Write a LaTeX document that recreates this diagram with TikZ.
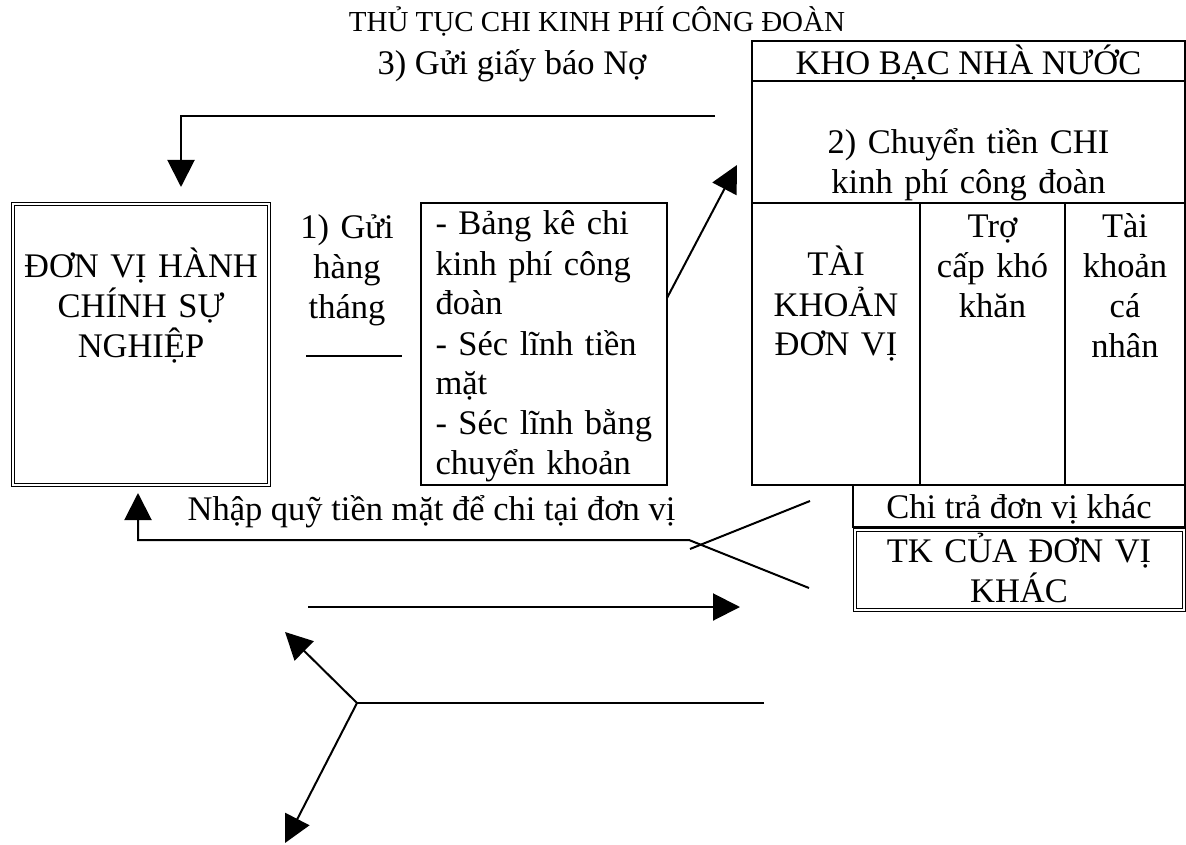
\documentclass[tikz,border=0pt]{standalone}
\usepackage{fontspec}
\setmainfont{Liberation Serif}
\usepackage{tikz}
\usetikzlibrary{arrows.meta, positioning}

\newcommand{\spreadline}[1]{\makebox[217pt][s]{#1}}

\begin{document}
\begin{tikzpicture}[
        x=1pt, y=-1pt,
        font=\fontsize{34.5}{40}\selectfont,
        cell/.style={rectangle, draw=black, line width=2pt, inner sep=0pt, outer sep=0pt, align=center},
        dblcell/.style={rectangle, draw=black, line width=1pt, double, double distance=2pt, inner sep=0pt, outer sep=0pt, align=center},
        relation/.style={-{Triangle[length=27pt, width=27pt]}, line width=2pt},
        plain/.style={line width=2pt}
    ]
            \useasboundingbox (0,0) rectangle (1186,845);

            \node[anchor=base, font=\fontsize{29}{33}\selectfont] (title) at (597,32) {THỦ TỤC CHI KINH PHÍ CÔNG ĐOÀN};
            \node[anchor=base] (baono) at (512,75) {3) Gửi giấy báo Nợ};

            % Left side
            \node[dblcell, anchor=north west, text width=256pt, minimum height=281pt, text height=73pt, text depth=208pt] (dv) at (13,204) {ĐƠN VỊ HÀNH\\CHÍNH SỰ\\NGHIỆP};
            \node[anchor=north, inner sep=0pt, align=center, text width=100pt, text height=34pt] (gui) at (347,204) {1) Gửi\\hàng\\tháng};
            \node[cell, anchor=north west, text width=217pt, align=left, inner xsep=14.5pt, text height=32pt, text depth=250pt] (giayto) at (421,203) {\spreadline{- Bảng kê chi}\\\spreadline{kinh phí công}\\đoàn\\\spreadline{- Séc lĩnh tiền}\\mặt\\\spreadline{- Séc lĩnh bằng}\\chuyển khoản};

            % Kho bac
            \node[cell, anchor=north west, minimum width=433pt, minimum height=40pt, text height=34pt, text depth=6pt] (kho) at (752,41) {KHO BẠC NHÀ NƯỚC};
            \node[cell, below=0pt of kho, text width=433pt, text height=73pt, text depth=49pt] (chuyen) {2) Chuyển tiền CHI\\kinh phí công đoàn};
            \node[cell, anchor=north west, text width=168pt, text height=73pt, text depth=209pt] (tkdv) at (chuyen.south west) {TÀI\\KHOẢN\\ĐƠN VỊ};
            \node[cell, right=0pt of tkdv, text width=145pt, text height=34pt, text depth=248pt] (trocap) {Trợ\\cấp khó\\khăn};
            \node[cell, right=0pt of trocap, text width=120pt, text height=34pt, text depth=248pt] (tkcn) {Tài\\khoản\\cá\\nhân};
            \node[cell, anchor=north east, minimum width=332pt, text height=33pt, text depth=9pt] (chitra) at (tkcn.south east) {Chi trả đơn vị khác};
            \node[dblcell, below=3pt of chitra, text width=329pt, text height=32pt, text depth=48pt] (tkkhac) {TK CỦA ĐƠN VỊ\\KHÁC};

            \node[anchor=base] (nhap) at (431.5,520) {Nhập quỹ tiền mặt để chi tại đơn vị};

            % Relations
            \coordinate (g1) at (306,356);
            \coordinate (g2) at (402,356);
            \draw[plain] (g1) -- (g2);

            \coordinate (c1) at (667,298);
            \coordinate (c2) at (737,165);
            \draw[relation] (c1) -- (c2);

            \coordinate (n1) at (715,116);
            \coordinate (n2) at (181,187);
            \draw[relation] (n1) -| (n2);

            \coordinate (q1) at (809,588);
            \coordinate (q2) at (689,540);
            \coordinate (q3) at (138,493);
            \draw[relation] (q1) -- (q2) -| (q3);

            \coordinate (t1) at (810,501);
            \coordinate (t2) at (690,549);
            \draw[plain] (t1) -- (t2);

            \coordinate (r1) at (308,607);
            \coordinate (r2) at (740,607);
            \draw[relation] (r1) -- (r2);

            \coordinate (y0) at (357,703);
            \coordinate (y1) at (764,703);
            \coordinate (y2) at (285,632);
            \coordinate (y3) at (285,843);
            \draw[plain] (y1) -- (y0);
            \draw[relation] (y0) -- (y2);
            \draw[relation] (y0) -- (y3);
    \end{tikzpicture}
\end{document}
